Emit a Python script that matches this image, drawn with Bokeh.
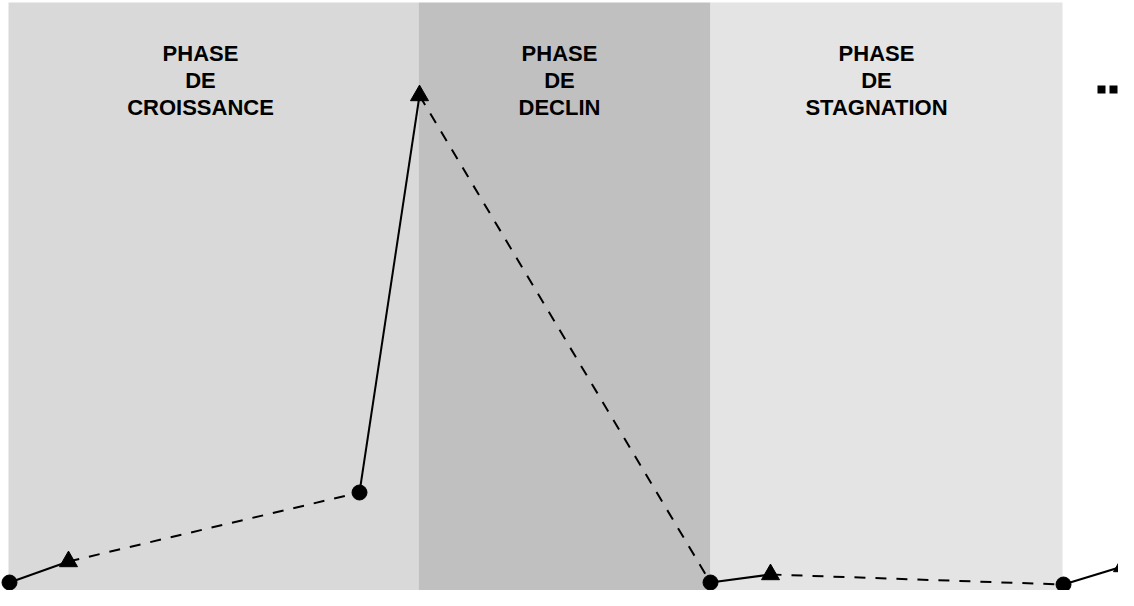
from bokeh.plotting import figure
from bokeh.models import Range1d
from bokeh.core.properties import value
from bokeh.embed import file_html
from bokeh.resources import INLINE

# Phases (time units on the x axis)
phase_names = ["PHASE\nDE\nCROISSANCE", "PHASE\nDE\nDECLIN", "PHASE\nDE\nSTAGNATION"]
phase_start = [16, 426, 718]
phase_end = [426, 718, 1070]
phase_colors = ["#d9d9d9", "#c0c0c0", "#e4e4e4"]
label_x = [208, 567, 884]
label_y = 558
band_top = 596

# Cycle points
pt_x = [17, 76, 367, 427, 718, 778, 1071, 1130]
pt_y = [16, 37, 106, 503, 16, 24, 14, 32]
pt_kind = ["circle", "triangle", "circle", "triangle", "circle", "triangle", "circle", "triangle"]

# Continuation marks
more_x = [1109, 1121]
more_y = [509, 509]

p = figure(width=1118, height=590, output_backend="svg", toolbar_location=None,
           x_range=Range1d(8, 1126), y_range=Range1d(8, 598),
           min_border=0, background_fill_color="white", border_fill_color="white")
p.axis.visible = False
p.grid.visible = False
p.outline_line_color = None

p.quad(left=phase_start, right=phase_end, bottom=[0] * 3, top=[band_top] * 3,
       fill_color=phase_colors, line_color=None)

p.text(x=label_x, y=[label_y] * 3, text=phase_names, text_align="center",
       text_baseline="top", text_font=value("Liberation Sans"), text_font_size="22px",
       text_font_style="bold", text_color="black", text_line_height=1.08)

# segments: circle->triangle solid, triangle->circle dashed
sx0, sy0, sx1, sy1 = [], [], [], []
dx0, dy0, dx1, dy1 = [], [], [], []
for i in range(len(pt_x) - 1):
    if pt_kind[i] == "circle":
        sx0.append(pt_x[i]); sy0.append(pt_y[i]); sx1.append(pt_x[i + 1]); sy1.append(pt_y[i + 1])
    else:
        dx0.append(pt_x[i]); dy0.append(pt_y[i]); dx1.append(pt_x[i + 1]); dy1.append(pt_y[i + 1])
p.segment(sx0, sy0, sx1, sy1, line_color="black", line_width=2)
p.segment(dx0, dy0, dx1, dy1, line_color="black", line_width=2, line_dash="11 10")

cx = [x for x, k in zip(pt_x, pt_kind) if k == "circle"]
cy = [y for y, k in zip(pt_y, pt_kind) if k == "circle"]
tx = [x for x, k in zip(pt_x, pt_kind) if k == "triangle"]
ty = [y for y, k in zip(pt_y, pt_kind) if k == "triangle"]
p.scatter(cx, cy, marker="circle", size=15, fill_color="black", line_color="black")
p.scatter(tx, ty, marker="triangle", size=18, fill_color="black", line_color="black")

p.scatter(more_x, more_y, marker="square", size=8, fill_color="black", line_color=None)

open("out.html", "w").write(file_html(p, INLINE))
